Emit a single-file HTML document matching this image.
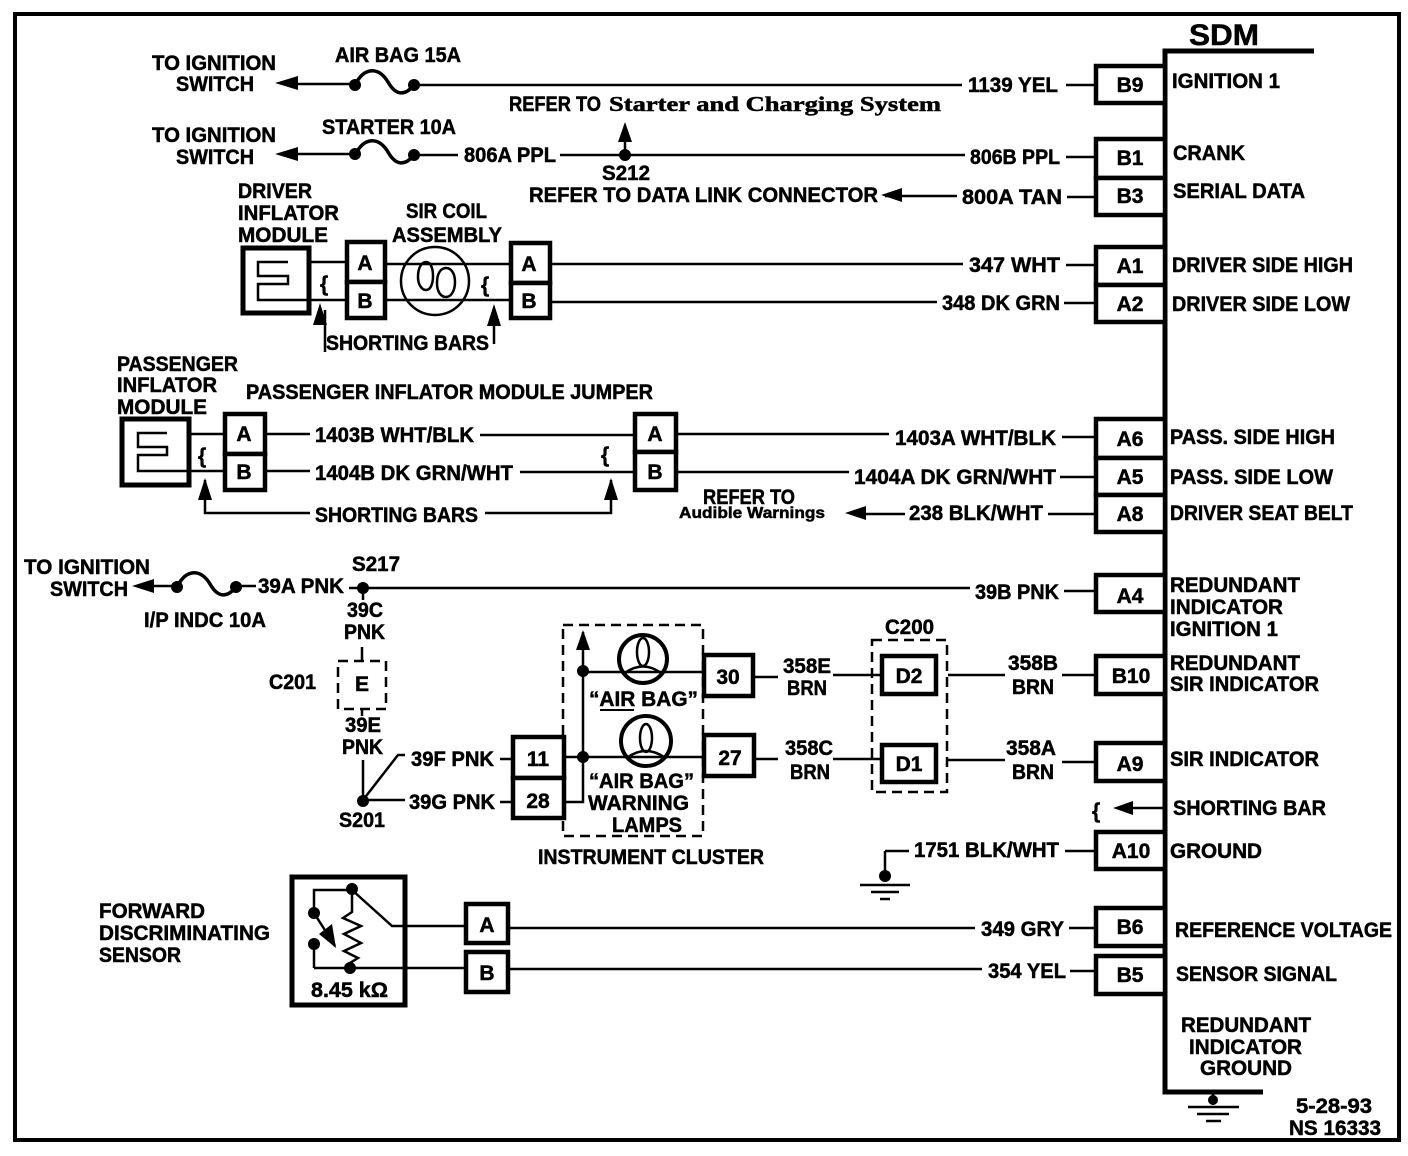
<!DOCTYPE html>
<html><head><meta charset="utf-8"><style>
html,body{margin:0;padding:0;background:#fff}
svg{display:block}
text{font-family:"Liberation Sans",sans-serif;font-weight:bold;font-size:21px;fill:#000;stroke:#000;stroke-width:.5px;transform:translateY(-1px)}
g.c text{transform:none}
.s{font-family:"Liberation Serif",serif;font-size:21px}
.c{text-anchor:middle}
.l{fill:none;stroke:#000;stroke-width:2.5}
.w{fill:none;stroke:#000;stroke-width:3.5}
.b{fill:#fff;stroke:#000;stroke-width:4.5}
.d{fill:none;stroke:#000;stroke-width:2.5;stroke-dasharray:10 6}
.f{fill:#000;stroke:none}
</style></head><body>
<svg width="1408" height="1156" viewBox="0 0 1408 1156" xmlns="http://www.w3.org/2000/svg">
<rect width="1408" height="1156" fill="#fff"/>
<rect x="15" y="14" width="1384" height="1126" fill="none" stroke="#000" stroke-width="4"/>
<!-- SDM bar -->
<path d="M1314 51H1165V1092H1263" fill="none" stroke="#000" stroke-width="5"/>
<path class="l" d="M1213 1092V1105M1188 1107H1239M1197 1114H1229M1206 1121H1221" />
<circle class="f" cx="1213" cy="1100" r="5"/>

<!-- wires -->
<path class="l" d="M290 84H355M414 85H962M1066 85H1096M290 154H355M414 155H458M560 155H965M1066 157H1096M625 125V155
M885 196H957M1067 197H1096M309 262H347M309 300H347M385 264H511M385 300H511M550 264H963M1066 265H1096M550 302H937M1064 303H1096
M189 434H225M189 471H225M265 434H310M480 435H635M265 471H310M520 472H635M675 434H889M1062 437H1096M675 472H849M1060 477H1096
M905 514H860M1048 514H1096M205 480V513H310M485 513H611V480M325 310V352M494 310V344
M150 586H175M240 586H256M349 588H970M1064 591H1096M363 588V600M362 647V660M362 710V716
M363 760V800L398 755H405M363 800H405M500 759H512M500 802H512M564 757H705M564 802H583V632M583 672H704
M755 677H778M755 759H778M833 675H882M948 675H1005M1062 675H1096M833 759H882M948 760H1005M1062 762H1096
M1165 808H1122M1065 851H1096M885 851H909M885 851V872M860 885H910M871 892H899M880 899H890
M352 890L392 926H465M510 928H975M1069 928H1096M314 968H465M510 969H982M1070 971H1096"/>
<path class="l" d="M352 890H314V912M314 945V968M352 890V912L343 918L361 926L344 934L361 943L344 951L358 958L350 963V968"/>
<path class="w" d="M355 85C365 65 380 68 388 82S405 96 414 85M355 155C365 135 380 138 388 152S405 166 414 155M177 587C187 567 202 570 210 584S227 598 236 587"/>

<!-- arrowheads -->
<path class="f" d="M275 83L298 76V90ZM275 154L298 147V161ZM625 122L618 142H632ZM881 195L902 188V202ZM132 586L154 579V593ZM320 303L313 325H327ZM494 304L487 326H501ZM205 478L198 500H212ZM611 478L604 500H618ZM845 513L866 506V520ZM1113 808L1133 801V815ZM583 630L576 650H590Z"/>
<!-- dots -->
<g class="f">
<circle cx="355" cy="154" r="6"/><circle cx="414" cy="155" r="6"/><circle cx="355" cy="85" r="6"/><circle cx="414" cy="85" r="6"/>
<circle cx="625" cy="155" r="6"/><circle cx="177" cy="587" r="6"/><circle cx="236" cy="587" r="6"/><circle cx="363" cy="588" r="6"/>
<circle cx="363" cy="801" r="6"/><circle cx="583" cy="671" r="6"/><circle cx="583" cy="757" r="6"/>
<circle cx="352" cy="889" r="6"/><circle cx="314" cy="913" r="6"/><circle cx="314" cy="944" r="6"/><circle cx="350" cy="968" r="6"/><circle cx="885" cy="876" r="6"/>
</g>
<path class="l" d="M314 913L335 946"/>
<path class="f" d="M336 948L319 934L332 924Z"/>

<!-- dashed -->
<path class="d" d="M563 625H703V836H563Z"/>
<path class="d" d="M338 661H386V709H338Z"/>
<path class="d" d="M872 640H947V792H872Z"/>

<!-- connector boxes -->
<g class="b">
<rect x="1096" y="66" width="69" height="37"/>
<rect x="1096" y="139" width="69" height="39"/><rect x="1096" y="178" width="69" height="37"/>
<rect x="1096" y="247" width="69" height="38"/><rect x="1096" y="285" width="69" height="37"/>
<rect x="1096" y="419" width="69" height="39"/><rect x="1096" y="458" width="69" height="37"/><rect x="1096" y="495" width="69" height="37"/>
<rect x="1096" y="575" width="69" height="37"/><rect x="1096" y="656" width="69" height="38"/><rect x="1096" y="743" width="69" height="38"/>
<rect x="1096" y="832" width="69" height="37"/><rect x="1096" y="908" width="69" height="38"/><rect x="1096" y="956" width="69" height="38"/>
<rect x="347" y="242" width="38" height="40"/><rect x="347" y="282" width="38" height="36"/>
<rect x="511" y="243" width="39" height="40"/><rect x="511" y="283" width="39" height="35"/>
<rect x="225" y="414" width="40" height="40"/><rect x="225" y="454" width="40" height="36"/>
<rect x="635" y="414" width="41" height="38"/><rect x="635" y="452" width="41" height="38"/>
<rect x="513" y="737" width="51" height="41"/><rect x="513" y="778" width="51" height="40"/>
<rect x="704" y="655" width="49" height="41"/><rect x="704" y="735" width="50" height="41"/>
<rect x="882" y="656" width="54" height="38"/><rect x="882" y="745" width="54" height="37"/>
<rect x="466" y="904" width="42" height="39"/><rect x="466" y="952" width="42" height="40"/>
</g>
<!-- modules -->
<rect x="243" y="248" width="66" height="65" fill="#fff" stroke="#000" stroke-width="5"/>
<rect x="122" y="419" width="67" height="66" fill="#fff" stroke="#000" stroke-width="5"/>
<rect x="292" y="877" width="113" height="128" fill="none" stroke="#000" stroke-width="5"/>
<path class="l" d="M288 262H258V276H288V284H258V300H309"/>
<path class="l" d="M167 433H138V447H167V455H138V471H189"/>
<!-- coils -->
<circle class="l" cx="435" cy="281" r="34"/>
<path class="l" d="M418 277c0 -10 4 -15 8 -15s7 5 7 14c0 9 -3 14 -7 14s-8 -5 -8 -13ZM437 283c0 -10 4 -15 9 -15s9 5 9 14c0 9 -4 15 -9 15s-9 -5 -9 -14Z"/>
<circle cx="643" cy="659" r="24" fill="none" stroke="#000" stroke-width="4"/>
<circle cx="646" cy="741" r="25" fill="none" stroke="#000" stroke-width="4"/>
<ellipse class="l" cx="643" cy="652" rx="6" ry="14"/><ellipse class="l" cx="646" cy="738" rx="6" ry="14"/>
<path class="l" d="M625 673Q643 660 661 673M628 757Q646 745 664 757"/>

<!-- shorting bar glyphs -->
<g style="font-size:28px">
<text x="320" y="292">{</text><text x="481" y="293">{</text><text x="198" y="464">{</text><text x="601" y="463">{</text><text x="1092" y="819">{</text>
</g>

<!-- labels in boxes -->
<g class="c" style="font-size:20px">
<text x="1130" y="92">B9</text><text x="1130" y="165">B1</text><text x="1130" y="203">B3</text><text x="1130" y="273">A1</text><text x="1130" y="311">A2</text>
<text x="1130" y="446">A6</text><text x="1130" y="484">A5</text><text x="1130" y="521">A8</text><text x="1130" y="603">A4</text><text x="1131" y="683">B10</text>
<text x="1130" y="771">A9</text><text x="1131" y="858">A10</text><text x="1130" y="934">B6</text><text x="1130" y="982">B5</text>
<text x="365" y="270">A</text><text x="365" y="308">B</text><text x="529" y="271">A</text><text x="529" y="308">B</text>
<text x="244" y="441">A</text><text x="244" y="479">B</text><text x="655" y="441">A</text><text x="655" y="479">B</text>
<text x="538" y="766">11</text><text x="538" y="808">28</text><text x="728" y="684">30</text><text x="730" y="765">27</text>
<text x="909" y="683">D2</text><text x="909" y="771">D1</text><text x="487" y="932">A</text><text x="487" y="980">B</text><text x="362" y="691">E</text>
</g>

<!-- text -->
<text x="1189" y="46" style="font-size:30px" textLength="70" lengthAdjust="spacingAndGlyphs">SDM</text>
<text x="1172" y="89" textLength="108" lengthAdjust="spacingAndGlyphs">IGNITION 1</text>
<text x="1173" y="161" textLength="72" lengthAdjust="spacingAndGlyphs">CRANK</text>
<text x="1173" y="199" textLength="132" lengthAdjust="spacingAndGlyphs">SERIAL DATA</text>
<text x="1172" y="273" textLength="181" lengthAdjust="spacingAndGlyphs">DRIVER SIDE HIGH</text>
<text x="1172" y="312" textLength="178" lengthAdjust="spacingAndGlyphs">DRIVER SIDE LOW</text>
<text x="1170" y="445" textLength="165" lengthAdjust="spacingAndGlyphs">PASS. SIDE HIGH</text>
<text x="1170" y="485" textLength="163" lengthAdjust="spacingAndGlyphs">PASS. SIDE LOW</text>
<text x="1170" y="521" textLength="183" lengthAdjust="spacingAndGlyphs">DRIVER SEAT BELT</text>
<text x="1170" y="593" textLength="130" lengthAdjust="spacingAndGlyphs">REDUNDANT</text>
<text x="1170" y="615" textLength="113" lengthAdjust="spacingAndGlyphs">INDICATOR</text>
<text x="1170" y="637" textLength="108" lengthAdjust="spacingAndGlyphs">IGNITION 1</text>
<text x="1170" y="671" textLength="130" lengthAdjust="spacingAndGlyphs">REDUNDANT</text>
<text x="1170" y="692" textLength="149" lengthAdjust="spacingAndGlyphs">SIR INDICATOR</text>
<text x="1170" y="767" textLength="149" lengthAdjust="spacingAndGlyphs">SIR INDICATOR</text>
<text x="1173" y="816" textLength="153" lengthAdjust="spacingAndGlyphs">SHORTING BAR</text>
<text x="1170" y="859" textLength="92" lengthAdjust="spacingAndGlyphs">GROUND</text>
<text x="1175" y="938" textLength="217" lengthAdjust="spacingAndGlyphs">REFERENCE VOLTAGE</text>
<text x="1176" y="982" textLength="161" lengthAdjust="spacingAndGlyphs">SENSOR SIGNAL</text>
<text x="1181" y="1033" textLength="130" lengthAdjust="spacingAndGlyphs">REDUNDANT</text>
<text x="1189" y="1055" textLength="113" lengthAdjust="spacingAndGlyphs">INDICATOR</text>
<text x="1200" y="1076" textLength="92" lengthAdjust="spacingAndGlyphs">GROUND</text>
<text x="1296" y="1114" textLength="76" lengthAdjust="spacingAndGlyphs">5-28-93</text>
<text x="1289" y="1136" textLength="92" lengthAdjust="spacingAndGlyphs">NS 16333</text>

<text x="152" y="71" textLength="124" lengthAdjust="spacingAndGlyphs">TO IGNITION</text>
<text x="176" y="92" textLength="78" lengthAdjust="spacingAndGlyphs">SWITCH</text>
<text x="335" y="63" textLength="126" lengthAdjust="spacingAndGlyphs">AIR BAG 15A</text>
<text x="968" y="93" textLength="90" lengthAdjust="spacingAndGlyphs">1139 YEL</text>
<text x="509" y="112" textLength="92" lengthAdjust="spacingAndGlyphs">REFER TO</text>
<text x="609" y="112" class="s" textLength="332" lengthAdjust="spacingAndGlyphs">Starter and Charging System</text>
<text x="152" y="143" textLength="124" lengthAdjust="spacingAndGlyphs">TO IGNITION</text>
<text x="176" y="165" textLength="78" lengthAdjust="spacingAndGlyphs">SWITCH</text>
<text x="322" y="135" textLength="134" lengthAdjust="spacingAndGlyphs">STARTER 10A</text>
<text x="464" y="163" textLength="92" lengthAdjust="spacingAndGlyphs">806A PPL</text>
<text x="970" y="165" textLength="90" lengthAdjust="spacingAndGlyphs">806B PPL</text>
<text x="602" y="181" textLength="48" lengthAdjust="spacingAndGlyphs">S212</text>
<text x="529" y="203" textLength="349" lengthAdjust="spacingAndGlyphs">REFER TO DATA LINK CONNECTOR</text>
<text x="962" y="205" textLength="100" lengthAdjust="spacingAndGlyphs">800A TAN</text>
<text x="238" y="199" textLength="74" lengthAdjust="spacingAndGlyphs">DRIVER</text>
<text x="238" y="221" textLength="101" lengthAdjust="spacingAndGlyphs">INFLATOR</text>
<text x="238" y="243" textLength="90" lengthAdjust="spacingAndGlyphs">MODULE</text>
<text x="406" y="219" textLength="81" lengthAdjust="spacingAndGlyphs">SIR COIL</text>
<text x="392" y="243" textLength="110" lengthAdjust="spacingAndGlyphs">ASSEMBLY</text>
<text x="969" y="273" textLength="91" lengthAdjust="spacingAndGlyphs">347 WHT</text>
<text x="942" y="311" textLength="118" lengthAdjust="spacingAndGlyphs">348 DK GRN</text>
<text x="326" y="351" textLength="163" lengthAdjust="spacingAndGlyphs">SHORTING BARS</text>
<text x="117" y="372" textLength="121" lengthAdjust="spacingAndGlyphs">PASSENGER</text>
<text x="117" y="393" textLength="100" lengthAdjust="spacingAndGlyphs">INFLATOR</text>
<text x="117" y="415" textLength="90" lengthAdjust="spacingAndGlyphs">MODULE</text>
<text x="246" y="400" textLength="407" lengthAdjust="spacingAndGlyphs">PASSENGER INFLATOR MODULE JUMPER</text>
<text x="315" y="443" textLength="159" lengthAdjust="spacingAndGlyphs">1403B WHT/BLK</text>
<text x="315" y="481" textLength="198" lengthAdjust="spacingAndGlyphs">1404B DK GRN/WHT</text>
<text x="315" y="523" textLength="163" lengthAdjust="spacingAndGlyphs">SHORTING BARS</text>
<text x="895" y="446" textLength="161" lengthAdjust="spacingAndGlyphs">1403A WHT/BLK</text>
<text x="854" y="485" textLength="202" lengthAdjust="spacingAndGlyphs">1404A DK GRN/WHT</text>
<text x="703" y="505" textLength="92" lengthAdjust="spacingAndGlyphs">REFER TO</text>
<text x="679" y="519" style="font-size:16px" textLength="146" lengthAdjust="spacingAndGlyphs">Audible Warnings</text>
<text x="909" y="521" textLength="134" lengthAdjust="spacingAndGlyphs">238 BLK/WHT</text>
<text x="24" y="575" textLength="126" lengthAdjust="spacingAndGlyphs">TO IGNITION</text>
<text x="50" y="597" textLength="78" lengthAdjust="spacingAndGlyphs">SWITCH</text>
<text x="258" y="594" textLength="86" lengthAdjust="spacingAndGlyphs">39A PNK</text>
<text x="352" y="572" textLength="48" lengthAdjust="spacingAndGlyphs">S217</text>
<text x="975" y="600" textLength="84" lengthAdjust="spacingAndGlyphs">39B PNK</text>
<text x="144" y="628" textLength="122" lengthAdjust="spacingAndGlyphs">I/P INDC 10A</text>
<text x="347" y="618" textLength="36" lengthAdjust="spacingAndGlyphs">39C</text>
<text x="344" y="640" textLength="41" lengthAdjust="spacingAndGlyphs">PNK</text>
<text x="269" y="690" textLength="47" lengthAdjust="spacingAndGlyphs">C201</text>
<text x="345" y="733" textLength="36" lengthAdjust="spacingAndGlyphs">39E</text>
<text x="342" y="755" textLength="41" lengthAdjust="spacingAndGlyphs">PNK</text>
<text x="411" y="767" textLength="83" lengthAdjust="spacingAndGlyphs">39F PNK</text>
<text x="409" y="810" textLength="86" lengthAdjust="spacingAndGlyphs">39G PNK</text>
<text x="339" y="828" textLength="46" lengthAdjust="spacingAndGlyphs">S201</text>
<text x="589" y="707" textLength="109" lengthAdjust="spacingAndGlyphs">“AIR  BAG”</text>
<path d="M600 710H634" stroke="#000" stroke-width="2"/>
<text x="589" y="789" textLength="105" lengthAdjust="spacingAndGlyphs">“AIR BAG”</text>
<text x="588" y="811" textLength="101" lengthAdjust="spacingAndGlyphs">WARNING</text>
<text x="612" y="833" textLength="70" lengthAdjust="spacingAndGlyphs">LAMPS</text>
<text x="538" y="865" textLength="226" lengthAdjust="spacingAndGlyphs">INSTRUMENT CLUSTER</text>
<text x="885" y="635" textLength="49" lengthAdjust="spacingAndGlyphs">C200</text>
<text x="783" y="674" textLength="48" lengthAdjust="spacingAndGlyphs">358E</text>
<text x="787" y="696" textLength="40" lengthAdjust="spacingAndGlyphs">BRN</text>
<text x="785" y="756" textLength="48" lengthAdjust="spacingAndGlyphs">358C</text>
<text x="790" y="780" textLength="40" lengthAdjust="spacingAndGlyphs">BRN</text>
<text x="1008" y="671" textLength="50" lengthAdjust="spacingAndGlyphs">358B</text>
<text x="1012" y="695" textLength="42" lengthAdjust="spacingAndGlyphs">BRN</text>
<text x="1006" y="756" textLength="50" lengthAdjust="spacingAndGlyphs">358A</text>
<text x="1012" y="780" textLength="42" lengthAdjust="spacingAndGlyphs">BRN</text>
<text x="914" y="858" textLength="145" lengthAdjust="spacingAndGlyphs">1751 BLK/WHT</text>
<text x="99" y="919" textLength="106" lengthAdjust="spacingAndGlyphs">FORWARD</text>
<text x="99" y="941" textLength="171" lengthAdjust="spacingAndGlyphs">DISCRIMINATING</text>
<text x="99" y="963" textLength="82" lengthAdjust="spacingAndGlyphs">SENSOR</text>
<text x="311" y="998" textLength="77" lengthAdjust="spacingAndGlyphs">8.45 kΩ</text>
<text x="981" y="937" textLength="83" lengthAdjust="spacingAndGlyphs">349 GRY</text>
<text x="988" y="979" textLength="78" lengthAdjust="spacingAndGlyphs">354 YEL</text>
</svg>
</body></html>
